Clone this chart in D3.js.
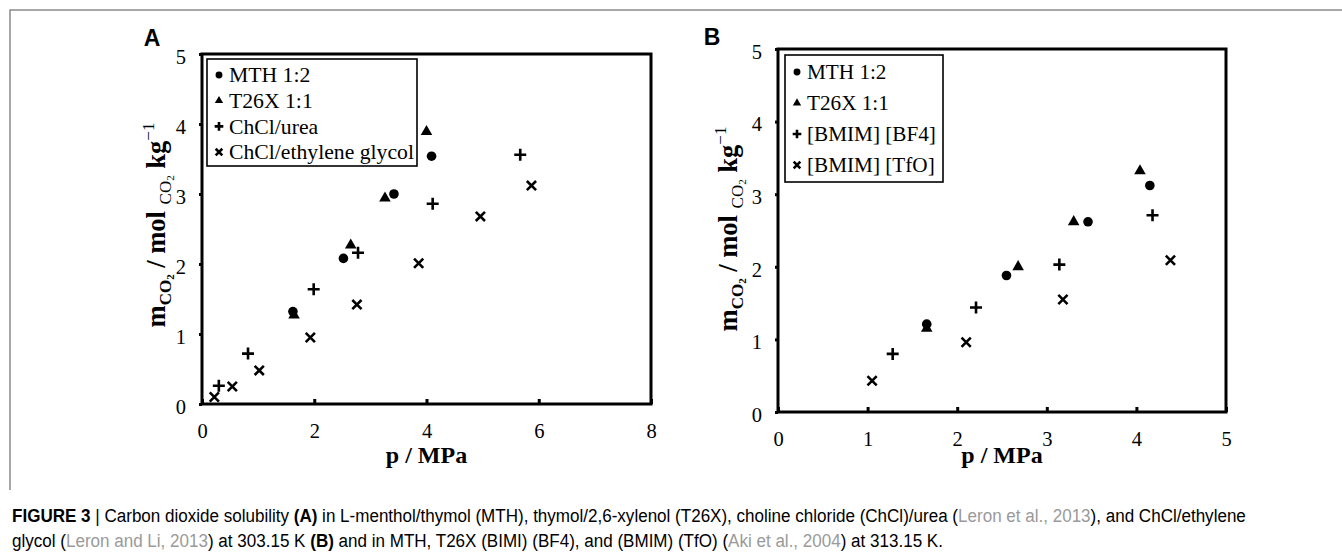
<!DOCTYPE html>
<html>
<head>
<meta charset="utf-8">
<script src="https://cdn.jsdelivr.net/npm/d3@7"></script>
<style>
  html, body { margin: 0; padding: 0; background: #fff; }
  svg { display: block; }
</style>
</head>
<body>
<div id="chart"></div>
<script>
// CO2 solubility vs pressure, two scatter panels (A: DES at 303.15 K, B: vs ionic liquids at 313.15 K)
const xTicksA = [0, 2, 4, 6, 8];
const xTicksB = [0, 1, 2, 3, 4, 5];
const yTicks = [0, 1, 2, 3, 4, 5];

const namesA = ["MTH 1:2", "T26X 1:1", "ChCl/urea", "ChCl/ethylene glycol"];
const namesB = ["MTH 1:2", "T26X 1:1", "[BMIM] [BF4]", "[BMIM] [TfO]"];
const symbols = ["circle", "triangle", "plus", "cross"];

// panel A points: [p / MPa, m / mol kg-1]
const mthA = [[1.62, 1.32], [2.52, 2.08], [3.42, 3.00], [4.09, 3.54]];
const t26xA = [[1.64, 1.27], [2.65, 2.27], [3.26, 2.94], [4.00, 3.89]];
const ureaA = [[0.30, 0.26], [0.82, 0.72], [1.99, 1.64], [2.78, 2.16], [4.11, 2.86], [5.67, 3.56]];
const glycolA = [[0.22, 0.10], [0.54, 0.25], [1.02, 0.48], [1.93, 0.95], [2.76, 1.42], [3.86, 2.01], [4.96, 2.68], [5.87, 3.12]];

// panel B points
const mthB = [[1.66, 1.21], [2.55, 1.88], [3.46, 2.62], [4.15, 3.12]];
const t26xB = [[1.66, 1.15], [2.68, 2.00], [3.30, 2.62], [4.04, 3.32]];
const bf4B = [[1.28, 0.80], [2.21, 1.44], [3.14, 2.03], [4.18, 2.71]];
const tfoB = [[1.05, 0.43], [2.10, 0.96], [3.18, 1.55], [4.38, 2.09]];

const serif = "'Liberation Serif', 'Times New Roman', serif";
const sans = "'Liberation Sans', Arial, sans-serif";

const svg = d3.select("#chart").append("svg")
  .attr("width", 1342)
  .attr("height", 552);

// grey figure frame (left + top)
svg.append("path")
  .attr("d", "M10,490V10H1342")
  .attr("fill", "none")
  .attr("stroke", "#8a8a8a")
  .attr("stroke-width", 1.5);

function drawMarker(g, type, k) {
  if (type === "circle") {
    g.append("circle").attr("r", 4.8 * k).attr("fill", "#000");
  } else if (type === "triangle") {
    g.append("path").attr("d", d3.symbol(d3.symbolTriangle, 58 * k * k)()).attr("fill", "#000");
  } else if (type === "plus") {
    const a = 6 * k;
    g.append("path").attr("d", `M${-a},0H${a}M0,${-a}V${a}`)
      .attr("stroke", "#000").attr("stroke-width", 2.6).attr("fill", "none");
  } else {
    const a = 4.6 * k;
    g.append("path").attr("d", `M${-a},${-a}L${a},${a}M${-a},${a}L${a},${-a}`)
      .attr("stroke", "#000").attr("stroke-width", 2.6).attr("fill", "none");
  }
}

function drawPanel(o) {
  const x = d3.scaleLinear().domain([0, d3.max(o.xTicks)]).range([o.left, o.right]);
  const y = d3.scaleLinear().domain([0, d3.max(yTicks)]).range([o.bottom, o.top]);
  const g = svg.append("g");

  // x axis, ticks pointing inward
  const gx = g.append("g")
    .attr("transform", `translate(0,${o.bottom})`)
    .call(d3.axisBottom(x).tickValues(o.xTicks).tickSize(-5).tickPadding(o.xPad).tickFormat(d3.format("d")));
  // y axis
  const gy = g.append("g")
    .attr("transform", `translate(${o.left},0)`)
    .call(d3.axisLeft(y).tickValues(yTicks).tickSize(3).tickPadding(13).tickFormat(d3.format("d")));
  [gx, gy].forEach((a) => {
    a.select(".domain").remove();
    a.attr("font-family", serif).attr("font-size", 20.5);
    a.selectAll(".tick line").attr("stroke", "#000").attr("stroke-width", 3);
    a.selectAll(".tick text").attr("fill", "#000");
  });
  gy.selectAll(".tick text").attr("dy", "0.45em");

  // plot frame
  g.append("rect")
    .attr("x", o.left).attr("y", o.top)
    .attr("width", o.right - o.left).attr("height", o.bottom - o.top)
    .attr("fill", "none").attr("stroke", "#000").attr("stroke-width", 3);

  // points
  o.series.forEach((pts, i) => {
    pts.forEach((d) => {
      const m = g.append("g").attr("transform", `translate(${x(d[0])},${y(d[1])})`);
      drawMarker(m, symbols[i], 1);
    });
  });

  // legend
  const lg = g.append("g");
  lg.append("rect")
    .attr("x", o.legend.x).attr("y", o.legend.y)
    .attr("width", o.legend.w).attr("height", o.legend.h)
    .attr("fill", "#fff").attr("stroke", "#000").attr("stroke-width", 1.6);
  o.names.forEach((name, i) => {
    const cy = o.legend.y + o.legend.first + i * o.legend.step;
    const m = lg.append("g").attr("transform", `translate(${o.legend.x + 12},${cy})`);
    drawMarker(m, symbols[i], 0.72);
    lg.append("text")
      .attr("x", o.legend.x + 22)
      .attr("y", cy)
      .attr("dy", "0.33em")
      .attr("font-family", serif)
      .attr("font-size", o.legend.font)
      .attr("fill", "#000")
      .text(name);
  });

  // x title
  g.append("text")
    .attr("x", (o.left + o.right) / 2)
    .attr("y", o.xTitleY)
    .attr("text-anchor", "middle")
    .attr("font-family", serif)
    .attr("font-size", 24)
    .attr("font-weight", "bold")
    .text("p / MPa");

  // y title with sub/superscripts
  const yt = g.append("text")
    .attr("transform", `translate(${o.yTitleX},${o.yTitleY}) rotate(-90)`)
    .attr("text-anchor", "middle")
    .attr("font-family", serif)
    .attr("font-size", 26.5)
    .attr("font-weight", "bold");
  yt.append("tspan").text("m");
  yt.append("tspan").attr("font-size", 17).attr("dy", 5.5).text("CO");
  yt.append("tspan").attr("font-size", 11).attr("dy", 3).text("2");
  yt.append("tspan").attr("dy", -8.5).text(" / mol ");
  yt.append("tspan").attr("font-size", 17).attr("font-weight", "normal").attr("dy", 5.5).text("CO");
  yt.append("tspan").attr("font-size", 11).attr("font-weight", "normal").attr("dy", 3).text("2");
  yt.append("tspan").attr("dy", -8.5).text(" kg");
  yt.append("tspan").attr("font-size", 17).attr("font-weight", "normal").attr("dy", -11).text("\u22121");

  // panel letter
  g.append("text")
    .attr("x", o.letterX).attr("y", o.letterY)
    .attr("text-anchor", "middle")
    .attr("font-family", sans)
    .attr("font-weight", "bold")
    .attr("font-size", 23)
    .text(o.letter);
}

drawPanel({
  letter: "A", letterX: 152, letterY: 46,
  xTicks: xTicksA, left: 202, right: 651, top: 54, bottom: 404, xPad: 19,
  series: [mthA, t26xA, ureaA, glycolA], names: namesA,
  legend: { x: 207, y: 59, w: 210, h: 107, first: 16, step: 25.7, font: 21.7 },
  xTitleY: 463, yTitleX: 165, yTitleY: 225
});

drawPanel({
  letter: "B", letterX: 712, letterY: 45,
  xTicks: xTicksB, left: 778, right: 1226, top: 49, bottom: 412, xPad: 19,
  series: [mthB, t26xB, bf4B, tfoB], names: namesB,
  legend: { x: 785, y: 55, w: 158, h: 127, first: 17, step: 31, font: 21.2 },
  xTitleY: 463, yTitleX: 737, yTitleY: 229
});

// caption
const caption = svg.append("g").attr("fill", "#000");
const grey = "#9a9a9a";
const line1 = [
  ["FIGURE 3", "bold", null], [" | ", "normal", null],
  ["Carbon dioxide solubility ", "normal", null], ["(A)", "bold", null],
  [" in L-menthol/thymol (MTH), thymol/2,6-xylenol (T26X), choline chloride (ChCl)/urea (", "normal", null],
  ["Leron et al., 2013", "normal", grey], ["), and ChCl/ethylene", "normal", null]
];
const line2 = [
  ["glycol (", "normal", null], ["Leron and Li, 2013", "normal", grey],
  [") at 303.15 K ", "normal", null], ["(B)", "bold", null],
  [" and in MTH, T26X (BIMI) (BF4), and (BMIM) (TfO) (", "normal", null],
  ["Aki et al., 2004", "normal", grey], [") at 313.15 K.", "normal", null]
];
function captionLine(parts, yy) {
  const t = caption.append("text")
    .attr("y", yy)
    .attr("font-family", "'Liberation Sans Narrow', 'Arial Narrow', 'Liberation Sans', sans-serif")
    .attr("font-size", 19)
    .style("white-space", "pre");
  parts.forEach((p) => {
    const s = t.append("tspan").attr("font-weight", p[1]).text(p[0]);
    if (p[2]) s.attr("fill", p[2]);
  });
  return t;
}
const c1 = captionLine(line1, 522);
const c2 = captionLine(line2, 547);
const k = 1235 / c1.node().getComputedTextLength();
c1.attr("transform", `translate(12,0) scale(${k},1)`);
c2.attr("transform", `translate(12,0) scale(${k},1)`);
</script>
</body>
</html>
